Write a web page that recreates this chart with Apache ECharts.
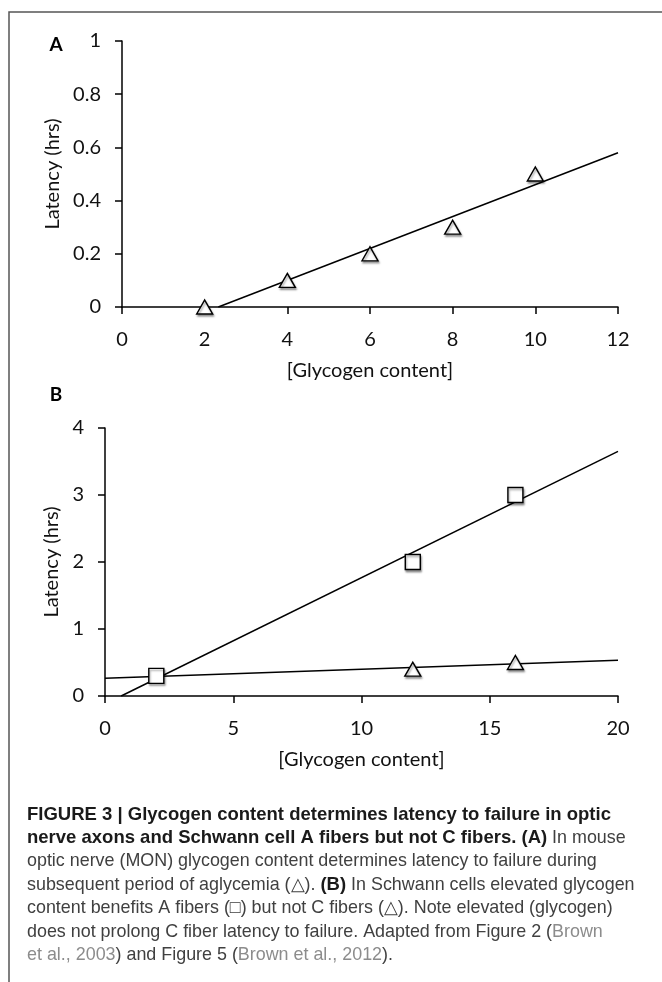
<!DOCTYPE html>
<html>
<head>
<meta charset="utf-8">
<script src="https://cdn.jsdelivr.net/npm/echarts@6/dist/echarts.min.js"></script>
<style>
html,body{margin:0;padding:0;background:#fff;}
#c{width:662px;height:982px;}
</style>
</head>
<body>
<div id="c"></div>
<script>
// ---- Data ----
// Panel A: mouse optic nerve, aglycemia (triangles)
const aGlycogen = [2, 4, 6, 8, 10];
const aLatency = [0, 0.1, 0.2, 0.3, 0.5];
const aTrendX = [2.33, 12];
const aTrendY = [0, 0.58];
// Panel B: Schwann cells, A fibers (squares), C fibers (triangles)
const bAGlycogen = [2, 12, 16];
const bALatency = [0.3, 2, 3];
const bATrendX = [0.63, 20];
const bATrendY = [0, 3.65];
const bCGlycogen = [12, 16];
const bCLatency = [0.4, 0.5];
const bCTrendX = [0, 20];
const bCTrendY = [0.265, 0.535];
// Axis ranges / tick steps
const aXRange = [0, 12, 2];
const aYRange = [0, 1, 0.2];
const bXRange = [0, 20, 5];
const bYRange = [0, 4, 1];

const zip = (xs, ys) => xs.map((x, i) => [x, ys[i]]);

const FONT = 'Lato';
const tickLabel = {color: '#111', fontFamily: FONT, fontSize: 20};
const nameStyle = {color: '#111', fontFamily: FONT, fontSize: 20};

function xAxis(grid, r) {
  return {
    gridIndex: grid, type: 'value', min: r[0], max: r[1], interval: r[2],
    name: '[Glycogen content]', nameLocation: 'middle', nameGap: 54, nameTextStyle: nameStyle,
    axisLine: {show: true, onZero: false, lineStyle: {color: '#000', width: 1.5}},
    axisTick: {show: true, length: 7, lineStyle: {color: '#000', width: 1.5}},
    axisLabel: Object.assign({}, tickLabel, {margin: 23}),
    splitLine: {show: false}
  };
}
function yAxis(grid, r, gap) {
  return {
    gridIndex: grid, type: 'value', min: r[0], max: r[1], interval: r[2],
    name: 'Latency (hrs)', nameLocation: 'middle', nameGap: gap, nameRotate: 90, nameTextStyle: nameStyle,
    axisLine: {show: true, onZero: false, lineStyle: {color: '#000', width: 1.5}},
    axisTick: {show: true, length: 7, lineStyle: {color: '#000', width: 1.5}},
    axisLabel: Object.assign({}, tickLabel, {margin: 21}),
    splitLine: {show: false}
  };
}
const markerStyle = {
  color: '#fff', opacity: 1, borderColor: '#000', borderWidth: 1.4,
  shadowColor: 'rgba(0,0,0,0.35)', shadowBlur: 2, shadowOffsetX: 1, shadowOffsetY: 2
};
function scatter(xi, yi, data, symbol, size) {
  return {type: 'scatter', xAxisIndex: xi, yAxisIndex: yi, data: data, symbol: symbol,
    symbolSize: size, itemStyle: markerStyle, z: 5, silent: true};
}
function trend(xi, yi, data) {
  return {type: 'line', xAxisIndex: xi, yAxisIndex: yi, data: data, showSymbol: false, symbol: 'none',
    lineStyle: {color: '#000', width: 1.5}, z: 3, silent: true};
}

const cap = [
  '{b|FIGURE 3 | Glycogen content determines latency to failure in optic}',
  '{b|nerve axons and Schwann cell A fibers but not C fibers. (A)}{n| In mouse}',
  '{n|optic nerve (MON) glycogen content determines latency to failure during}',
  '{n|subsequent period of aglycemia (\u25B3). }{b|(B)}{n| In Schwann cells elevated glycogen}',
  '{n|content benefits A fibers (\u25A1) but not C fibers (\u25B3). Note elevated (glycogen)}',
  '{n|does not prolong C fiber latency to failure. Adapted from Figure 2 (}{g|Brown}',
  '{g|et al., 2003}{n|) and Figure 5 (}{g|Brown et al., 2012}{n|).}'
];
const capFont = 'Liberation Sans';
const capLH = 23.4;

const chart = echarts.init(document.getElementById('c'), null, {renderer: 'canvas'});
chart.setOption({
  backgroundColor: '#fff',
  animation: false,
  grid: [
    {left: 122, top: 41, width: 496, height: 266},
    {left: 105, top: 428, width: 513, height: 268}
  ],
  xAxis: [xAxis(0, aXRange), xAxis(1, bXRange)],
  yAxis: [yAxis(0, aYRange, 50), yAxis(1, bYRange, 33)],
  series: [
    trend(0, 0, zip(aTrendX, aTrendY)),
    scatter(0, 0, zip(aGlycogen, aLatency), 'triangle', [16, 14]),
    trend(1, 1, zip(bATrendX, bATrendY)),
    trend(1, 1, zip(bCTrendX, bCTrendY)),
    scatter(1, 1, zip(bCGlycogen, bCLatency), 'triangle', [16, 14]),
    scatter(1, 1, zip(bAGlycogen, bALatency), 'rect', 15)
  ],
  graphic: [
    {type: 'polyline', silent: true, shape: {points: [[9, 982], [9, 12], [662, 12]]},
     style: {stroke: '#555', lineWidth: 1.5, fill: null}},
    {type: 'text', x: 56, y: 45, silent: true,
     style: {text: 'A', font: 'bold 19px Lato', fill: '#000', align: 'center', verticalAlign: 'middle'}},
    {type: 'text', x: 56, y: 395, silent: true,
     style: {text: 'B', font: 'bold 19px Lato', fill: '#000', align: 'center', verticalAlign: 'middle'}},
    {type: 'text', left: 27, top: 803, silent: true,
     style: {
       text: cap.join('\n'),
       lineHeight: capLH,
       rich: {
         b: {fontFamily: capFont, fontWeight: 'bold', fontSize: 18.5, fill: '#1a1a1a', lineHeight: capLH},
         n: {fontFamily: capFont, fontWeight: 'normal', fontSize: 17.9, fill: '#404040', lineHeight: capLH},
         g: {fontFamily: capFont, fontWeight: 'normal', fontSize: 17.9, fill: '#8c8c8c', lineHeight: capLH}
       }
     }}
  ]
});
</script>
</body>
</html>
